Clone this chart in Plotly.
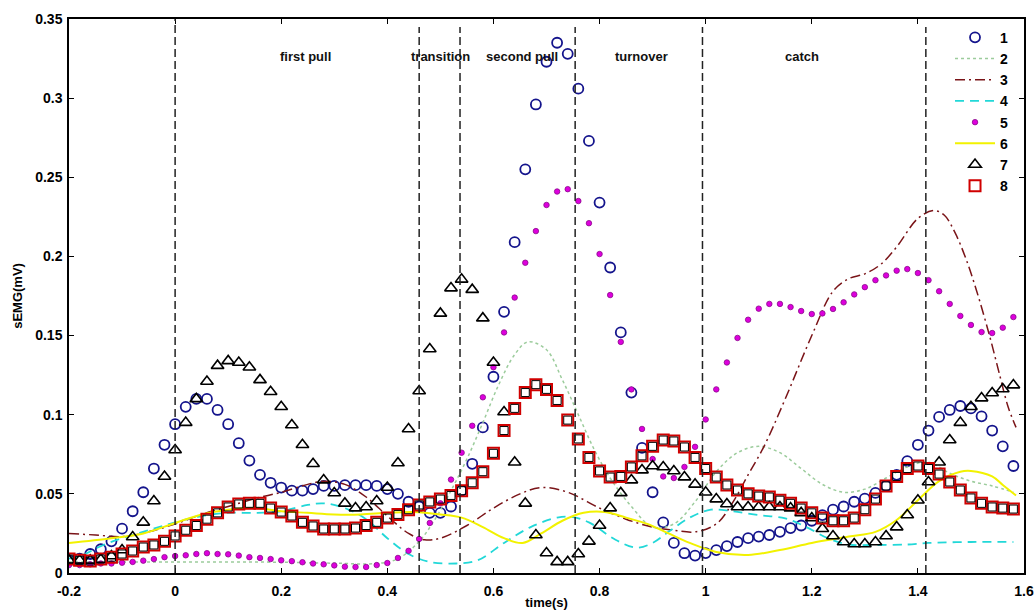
import numpy as np
import plotly.graph_objects as go

# sample times of the marker series (s)
TIME = np.round(np.linspace(-0.20, 1.58, 90), 2)

S1 = [0.008, 0.009, 0.012, 0.015, 0.020, 0.028, 0.039, 0.051, 0.066, 0.081,
      0.094, 0.105, 0.110, 0.110, 0.103, 0.094, 0.082, 0.071, 0.062, 0.057,
      0.054, 0.052, 0.052, 0.053, 0.055, 0.055, 0.0555, 0.0555, 0.0555, 0.055,
      0.053, 0.050, 0.045, 0.042, 0.038, 0.038, 0.042, 0.052, 0.069, 0.092,
      0.124, 0.165, 0.209, 0.255, 0.296, 0.323, 0.335, 0.328, 0.306, 0.273,
      0.234, 0.193, 0.152, 0.114, 0.079, 0.051, 0.032, 0.019, 0.0125, 0.011,
      0.0126, 0.0145, 0.017, 0.0196, 0.022, 0.023, 0.024, 0.026, 0.0284, 0.030,
      0.033, 0.0366, 0.040, 0.042, 0.045, 0.047, 0.0506, 0.055, 0.062, 0.0707,
      0.081, 0.090, 0.0986, 0.103, 0.1055, 0.104, 0.099, 0.090, 0.080, 0.0676]

S5 = [0.005, 0.005, 0.0055, 0.006, 0.006, 0.0065, 0.007, 0.0078, 0.0088, 0.010,
      0.0107, 0.0112, 0.012, 0.0125, 0.012, 0.0118, 0.011, 0.010, 0.0095, 0.0088,
      0.008, 0.0075, 0.0068, 0.006, 0.0055, 0.0048, 0.004, 0.0038, 0.0038, 0.005,
      0.0063, 0.0095, 0.014, 0.0215, 0.0316, 0.044, 0.059, 0.076, 0.093, 0.111,
      0.130, 0.152, 0.174, 0.196, 0.216, 0.2325, 0.241, 0.2425, 0.235, 0.221,
      0.2015, 0.1756, 0.146, 0.116, 0.091, 0.072, 0.061, 0.060, 0.067, 0.0797,
      0.097, 0.116, 0.133, 0.1485, 0.160, 0.167, 0.170, 0.170, 0.168, 0.1655,
      0.1636, 0.164, 0.1668, 0.171, 0.176, 0.1806, 0.185, 0.188, 0.191, 0.192,
      0.1895, 0.185, 0.178, 0.170, 0.1624, 0.1567, 0.1522, 0.1516, 0.155, 0.1617]

S7 = [0.008, 0.008, 0.008, 0.0085, 0.0107, 0.0145, 0.0227, 0.032, 0.0455, 0.061,
      0.0777, 0.095, 0.110, 0.121, 0.131, 0.134, 0.133, 0.130, 0.122, 0.1145,
      0.105, 0.0935, 0.081, 0.069, 0.0587, 0.0505, 0.044, 0.041, 0.0417, 0.0455,
      0.054, 0.0695, 0.091, 0.115, 0.1415, 0.164, 0.180, 0.1855, 0.179, 0.161,
      0.133, 0.1017, 0.070, 0.044, 0.024, 0.0126, 0.007, 0.007, 0.012, 0.020,
      0.030, 0.041, 0.0506, 0.0587, 0.065, 0.0676, 0.067, 0.0644, 0.0606, 0.056,
      0.051, 0.0467, 0.0436, 0.0417, 0.0417, 0.0417, 0.0417, 0.0417, 0.041, 0.038,
      0.0347, 0.028, 0.0234, 0.0196, 0.0183, 0.0183, 0.0196, 0.0234, 0.029, 0.0366,
      0.046, 0.0575, 0.070, 0.084, 0.095, 0.105, 0.1105, 0.1137, 0.1162, 0.1187]

S8 = [0.0088, 0.008, 0.0076, 0.0088, 0.010, 0.012, 0.0139, 0.0164, 0.0177, 0.020,
      0.0234, 0.027, 0.030, 0.034, 0.038, 0.0417, 0.0436, 0.044, 0.044, 0.041,
      0.0385, 0.036, 0.032, 0.0297, 0.0278, 0.0278, 0.0278, 0.0284, 0.030, 0.032,
      0.0347, 0.037, 0.040, 0.043, 0.0449, 0.0467, 0.049, 0.052, 0.057, 0.064,
      0.0756, 0.090, 0.104, 0.114, 0.119, 0.116, 0.109, 0.0966, 0.0847, 0.073,
      0.0645, 0.0606, 0.061, 0.067, 0.074, 0.080, 0.084, 0.0834, 0.0796, 0.073,
      0.066, 0.0606, 0.0556, 0.0524, 0.050, 0.0486, 0.048, 0.046, 0.044, 0.041,
      0.038, 0.0347, 0.033, 0.033, 0.0347, 0.040, 0.0467, 0.055, 0.061, 0.066,
      0.0676, 0.066, 0.0625, 0.0575, 0.0524, 0.0474, 0.044, 0.0417, 0.041, 0.0404]

# smooth curves (read at irregular times)
T2 = [-0.20, -0.10, 0.00, 0.10, 0.20, 0.30, 0.38, 0.42, 0.46, 0.49, 0.52, 0.55, 0.58,
      0.61, 0.64, 0.665, 0.70, 0.73, 0.76, 0.79, 0.82, 0.86, 0.90, 0.94, 0.98, 1.02,
      1.06, 1.10, 1.14, 1.18, 1.22, 1.26, 1.30, 1.34, 1.38, 1.42, 1.46, 1.50, 1.54, 1.58]
S2 = [0.007, 0.007, 0.007, 0.007, 0.0068, 0.0062, 0.006, 0.009, 0.020, 0.034, 0.052, 0.072,
      0.095, 0.119, 0.138, 0.146, 0.141, 0.122, 0.100, 0.078, 0.060, 0.042, 0.029, 0.031,
      0.045, 0.064, 0.076, 0.080, 0.076, 0.066, 0.056, 0.051, 0.053, 0.060, 0.067, 0.070,
      0.063, 0.058, 0.055, 0.051]

T3 = [-0.20, -0.15, -0.10, -0.05, 0.00, 0.05, 0.10, 0.15, 0.20, 0.25, 0.28, 0.32, 0.36,
      0.40, 0.44, 0.47, 0.50, 0.55, 0.60, 0.65, 0.69, 0.74, 0.80, 0.85, 0.90, 0.94, 0.98,
      1.02, 1.05, 1.08, 1.11, 1.15, 1.20, 1.24, 1.27, 1.30, 1.33, 1.36, 1.40, 1.43, 1.45,
      1.47, 1.49, 1.51, 1.535, 1.555, 1.57, 1.585]
S3 = [0.025, 0.024, 0.023, 0.026, 0.031, 0.037, 0.042, 0.047, 0.051, 0.056, 0.058, 0.056,
      0.048, 0.036, 0.025, 0.021, 0.022, 0.030, 0.041, 0.050, 0.054, 0.051, 0.041, 0.034,
      0.029, 0.027, 0.026, 0.031, 0.044, 0.062, 0.080, 0.110, 0.150, 0.178, 0.186, 0.189,
      0.195, 0.206, 0.224, 0.229, 0.226, 0.215, 0.199, 0.179, 0.150, 0.124, 0.105, 0.092]

T4 = [-0.20, -0.17, -0.14, -0.10, -0.05, 0.00, 0.05, 0.10, 0.15, 0.20, 0.25, 0.28, 0.32,
      0.36, 0.40, 0.44, 0.48, 0.53, 0.57, 0.62, 0.67, 0.72, 0.745, 0.78, 0.83, 0.87, 0.90,
      0.93, 0.97, 1.01, 1.05, 1.10, 1.15, 1.19, 1.23, 1.27, 1.32, 1.38, 1.42, 1.50, 1.58]
S4 = [0.009, 0.012, 0.017, 0.022, 0.027, 0.032, 0.036, 0.038, 0.038, 0.039, 0.043, 0.044,
      0.041, 0.034, 0.022, 0.012, 0.007, 0.006, 0.008, 0.019, 0.029, 0.035, 0.0355, 0.032,
      0.021, 0.016, 0.019, 0.026, 0.035, 0.040, 0.039, 0.0366, 0.0345, 0.029, 0.022, 0.018,
      0.0177, 0.018, 0.019, 0.0196, 0.0196]

T6 = [-0.20, -0.12, -0.06, 0.00, 0.05, 0.10, 0.15, 0.20, 0.25, 0.30, 0.35, 0.40, 0.45,
      0.50, 0.54, 0.58, 0.62, 0.655, 0.69, 0.73, 0.77, 0.81, 0.85, 0.89, 0.93, 0.97, 1.02,
      1.08, 1.14, 1.20, 1.27, 1.32, 1.36, 1.40, 1.44, 1.48, 1.50, 1.54, 1.56, 1.585]
S6 = [0.019, 0.022, 0.025, 0.0316, 0.037, 0.040, 0.041, 0.039, 0.038, 0.037, 0.037, 0.038,
      0.0385, 0.037, 0.035, 0.029, 0.022, 0.019, 0.025, 0.033, 0.038, 0.0385, 0.035, 0.031,
      0.025, 0.019, 0.0133, 0.0114, 0.0145, 0.019, 0.023, 0.026, 0.0335, 0.046, 0.058, 0.064,
      0.0645, 0.061, 0.0556, 0.049]

PHASE_BOUNDS = [0.0, 0.46, 0.537, 0.754, 0.994, 1.415]
PHASE_NAMES = ["first pull", "transition", "second pull", "turnover", "catch"]
PHASE_LABEL_X = [0.245, 0.501, 0.654, 0.879, 1.181]
PHASE_LABEL_Y = 0.3266

X_TICKS = [-0.2, 0, 0.2, 0.4, 0.6, 0.8, 1, 1.2, 1.4, 1.6]
X_TICKTEXT = ["-0.2", "0", "0.2", "0.4", "0.6", "0.8", "1", "1.2", "1.4", "1.6"]
Y_TICKS = [0, 0.05, 0.1, 0.15, 0.2, 0.25, 0.3, 0.35]
Y_TICKTEXT = ["0", "0.05", "0.1", "0.15", "0.2", "0.25", "0.3", "0.35"]

FONT = "Liberation Sans, Arial, Helvetica, sans-serif"

fig = go.Figure()

fig.add_trace(go.Scatter(x=TIME, y=S1, mode="markers", name="1",
                         marker=dict(symbol="circle-open", size=10, color="#14148c",
                                     line=dict(width=1.8, color="#14148c"))))
fig.add_trace(go.Scatter(x=T2, y=S2, mode="lines", name="2", line_shape="spline",
                         line=dict(color="#9ccc9c", width=1.5, dash="dot")))
fig.add_trace(go.Scatter(x=T3, y=S3, mode="lines", name="3", line_shape="spline",
                         line=dict(color="#7a1418", width=1.5, dash="10px,4px,2px,4px")))
fig.add_trace(go.Scatter(x=T4, y=S4, mode="lines", name="4", line_shape="spline",
                         line=dict(color="#22d8d8", width=1.8, dash="9px,6px")))
fig.add_trace(go.Scatter(x=TIME, y=S5, mode="markers", name="5",
                         marker=dict(symbol="circle", size=5.5, color="#dd00dd",
                                     line=dict(width=0.8, color="#8a0a8a"))))
fig.add_trace(go.Scatter(x=T6, y=S6, mode="lines", name="6", line_shape="spline",
                         line=dict(color="#f2f200", width=2)))
fig.add_trace(go.Scatter(x=TIME, y=S7, mode="markers", name="7",
                         marker=dict(symbol="triangle-up-open", size=11, color="#000000",
                                     line=dict(width=1.6, color="#000000"))))
fig.add_trace(go.Scatter(x=TIME, y=S8, mode="markers", name="8",
                         marker=dict(symbol="square-open", size=11, color="#d00000",
                                     line=dict(width=2, color="#d00000"))))
fig.add_trace(go.Scatter(x=TIME, y=S8, mode="markers", name="8", showlegend=False,
                         hoverinfo="skip",
                         marker=dict(symbol="square-open", size=8, color="#000000",
                                     line=dict(width=1, color="#000000"))))

shapes = []
for i, xb in enumerate(PHASE_BOUNDS):
    shapes.append(dict(type="line", xref="x", yref="y", x0=xb, x1=xb,
                       y0=0, y1=0.35 if i == 0 else 0.345,
                       line=dict(color="#222222", width=1.5, dash="8px,4px")))

annotations = []
for name, xl in zip(PHASE_NAMES, PHASE_LABEL_X):
    annotations.append(dict(x=xl, y=PHASE_LABEL_Y, xref="x", yref="y", text=name,
                            showarrow=False,
                            font=dict(family=FONT, size=13, color="#111111", weight="bold")))

fig.update_layout(
    width=1035, height=610,
    margin=dict(l=69, r=11, t=19, b=37),
    paper_bgcolor="white", plot_bgcolor="white",
    font=dict(family=FONT, size=14, color="black"),
    shapes=shapes, annotations=annotations,
    showlegend=True,
    legend=dict(x=0.9885, y=0.995, xanchor="right", yanchor="top",
                bgcolor="rgba(0,0,0,0)",
                font=dict(family=FONT, size=14, color="black", weight="bold"),
                itemwidth=40, tracegroupgap=0),
)
fig.update_xaxes(range=[-0.2, 1.6], tickvals=X_TICKS, ticktext=X_TICKTEXT,
                 tickfont=dict(family=FONT, size=14, weight="bold"),
                 ticklabelstandoff=4, automargin=False,
                 showline=True, linecolor="black", linewidth=1.5, mirror="ticks",
                 ticks="inside", ticklen=5, tickwidth=1.3, tickcolor="black",
                 showgrid=False, zeroline=False,
                 title=dict(text="time(s)", font=dict(family=FONT, size=13, weight="bold"),
                            standoff=0))
fig.update_yaxes(range=[0, 0.35], tickvals=Y_TICKS, ticktext=Y_TICKTEXT,
                 tickfont=dict(family=FONT, size=14, weight="bold"),
                 ticklabelstandoff=2, automargin=False,
                 showline=True, linecolor="black", linewidth=1.5, mirror="ticks",
                 ticks="inside", ticklen=5, tickwidth=1.3, tickcolor="black",
                 showgrid=False, zeroline=False,
                 title=dict(text="sEMG(mV)", font=dict(family=FONT, size=13, weight="bold"),
                            standoff=10))

fig.write_html("out.html")
